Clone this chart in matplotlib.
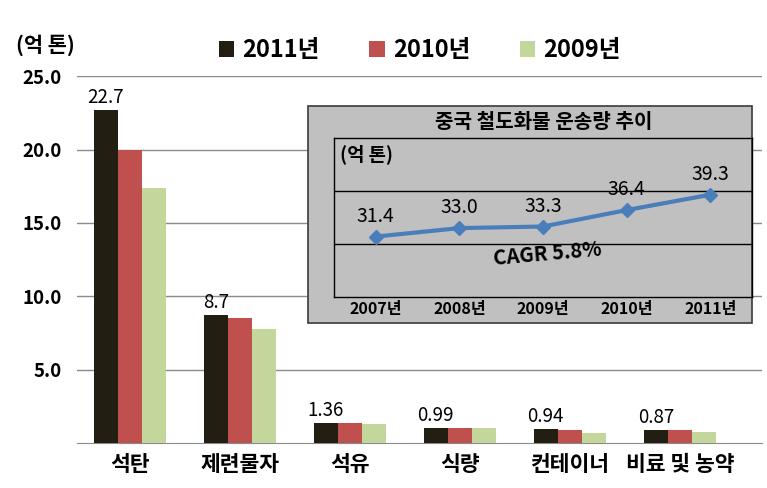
import numpy as np
import matplotlib
matplotlib.use('Agg')
import matplotlib.pyplot as plt
from matplotlib.patches import Rectangle

plt.rcParams['font.family'] = ['Noto Sans CJK KR', 'DejaVu Sans']

# data
categories = ['석탄', '제련물자', '석유', '식량', '컨테이너', '비료 및 농약']
years = ['2011년', '2010년', '2009년']
v2011 = [22.7, 8.7, 1.36, 0.99, 0.94, 0.87]
v2010 = [20.0, 8.55, 1.38, 1.0, 0.86, 0.88]
v2009 = [17.4, 7.8, 1.28, 0.99, 0.70, 0.78]
labels2011 = ['22.7', '8.7', '1.36', '0.99', '0.94', '0.87']
yticks = [5.0, 10.0, 15.0, 20.0, 25.0]

rail_years = ['2007년', '2008년', '2009년', '2010년', '2011년']
rail_vals = [31.4, 33.0, 33.3, 36.4, 39.3]

colors = ['#221e12', '#c0504d', '#c3d69b']

W, H = 767, 488
fig = plt.figure(figsize=(W / 100, H / 100), dpi=100)

def px_axes(left, top, right, bottom):
  return [left / W, 1 - bottom / H, (right - left) / W, (bottom - top) / H]

ax = fig.add_axes(px_axes(77, 76, 762, 443))
x = np.arange(len(categories))
bw = 0.22
series = [v2011, v2010, v2009]
bars = []
for i, vals in enumerate(series):
  b = ax.bar(x + (i - 1) * bw, vals, bw, color=colors[i], label=years[i], zorder=3)
  bars.append(b)

for xi, v, lab in zip(x, v2011, labels2011):
  ax.annotate(lab, (xi - bw, v), xytext=(0, 1.5), textcoords='offset points',
              ha='center', va='bottom', fontsize=13.5)

ax.set_xlim(-0.48, 5.745)
ax.set_ylim(0, 25.02)
ax.set_yticks(yticks)
ax.set_yticklabels(['%.1f' % t for t in yticks], fontsize=13.5, fontweight='bold')
ax.set_xticks(x)
ax.set_xticklabels(categories, fontsize=15.5, fontweight='bold')
ax.tick_params(axis='y', length=0, pad=11)
ax.tick_params(axis='x', length=0, pad=8)
ax.yaxis.grid(True, color='#8a8a8a', linewidth=1, zorder=0)
for s in ['top', 'right', 'left']:
  ax.spines[s].set_visible(False)
ax.spines['bottom'].set_color('#8a8a8a')

fig.text(16 / W, 1 - 45 / H, '(억 톤)', fontsize=15, fontweight='bold', va='center')

leg = fig.legend(handles=bars, labels=years, loc='center', ncol=3,
                 bbox_to_anchor=(420 / W, 1 - 50 / H), frameon=False,
                 prop={'size': 17, 'weight': 'bold'}, handlelength=0.65,
                 handleheight=0.65, handletextpad=0.35, columnspacing=2.1)

# inset chart
fig.patches.append(Rectangle((308 / W, 1 - 323 / H), (752 - 308) / W, (323 - 106) / H,
                             transform=fig.transFigure, facecolor='#c0c0c0',
                             edgecolor='#3a3a3a', linewidth=1.2, zorder=5))
ins = fig.add_axes(px_axes(334, 138, 752, 297))
ins.set_zorder(6)
ins.patch.set_visible(False)
xi = np.arange(len(rail_years))
ins.plot(xi, rail_vals, color='#4a7ebb', linewidth=3, marker='D', markersize=7)
for a, v in zip(xi, rail_vals):
  ins.annotate('%.1f' % v, (a, v), xytext=(0, 7), textcoords='offset points',
               ha='center', va='bottom', fontsize=14)
ins.set_xlim(-0.5, 4.5)
ins.set_ylim(20, 50)
ins.set_yticks([30, 40])
ins.yaxis.grid(True, color='black', linewidth=1)
ins.tick_params(axis='y', length=0, labelleft=False)
ins.set_xticks(xi)
ins.set_xticklabels(rail_years, fontsize=11.5, fontweight='bold')
ins.tick_params(axis='x', length=0, pad=3)
for s in ins.spines.values():
  s.set_color('black')
  s.set_linewidth(1)
ins.text(0.015, 0.9, '(억 톤)', transform=ins.transAxes, fontsize=13.5,
         fontweight='bold', va='center', ha='left')
ins.text(0.51, 0.27, 'CAGR 5.8%', transform=ins.transAxes, fontsize=14.5,
         fontweight='bold', ha='center', va='center', rotation=5)
fig.text(544 / W, 1 - 122 / H, '중국 철도화물 운송량 추이', fontsize=14.5,
         fontweight='bold', ha='center', va='center', zorder=7)

fig.savefig('out.png', dpi=100)
